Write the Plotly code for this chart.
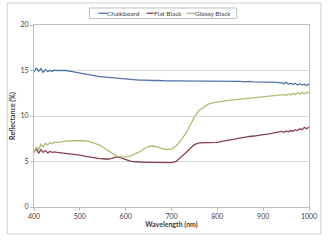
import plotly.graph_objects as go

wavelength = ([400, 405, 410, 415, 420, 425, 430, 435, 440, 445, 450]
              + list(range(460, 940, 10))
              + [940, 945, 950, 955, 960, 965, 970, 975, 980, 985, 990, 995, 1000])

chalkboard = ([14.8, 15.3, 14.9, 15.2, 14.8, 15.1, 14.9, 15.0, 14.9, 15.05, 15.0]
              + [15.0, 15.0, 14.9, 14.8, 14.7, 14.6, 14.5, 14.4, 14.35, 14.3,
                 14.25, 14.2, 14.15, 14.1, 14.05, 14.0, 14.0, 13.95, 13.95, 13.9,
                 13.9, 13.9, 13.85, 13.85, 13.85, 13.85, 13.8, 13.8, 13.8, 13.8,
                 13.8, 13.8, 13.8, 13.8, 13.8, 13.8, 13.8, 13.8, 13.8, 13.8,
                 13.75, 13.8, 13.75, 13.75, 13.75, 13.7, 13.7, 13.7]
              + [13.65, 13.55, 13.7, 13.5, 13.6, 13.45, 13.6, 13.4, 13.55, 13.4, 13.5, 13.35, 13.5])

flat_black = ([6.0, 6.4, 5.9, 6.3, 6.0, 6.2, 5.95, 6.1, 6.0, 6.05, 6.0]
              + [5.95, 5.9, 5.85, 5.75, 5.7, 5.6, 5.5, 5.45, 5.35, 5.3,
                 5.25, 5.35, 5.5, 5.4, 5.2, 5.05, 4.97, 4.92, 4.9, 4.9,
                 4.9, 4.9, 4.88, 4.87, 4.87, 5.0, 5.4, 5.9, 6.4, 6.85,
                 7.05, 7.05, 7.05, 7.05, 7.1, 7.2, 7.3, 7.4, 7.5, 7.6,
                 7.65, 7.75, 7.8, 7.9, 7.95, 8.0, 8.1, 8.2]
              + [8.3, 8.2, 8.35, 8.25, 8.4, 8.3, 8.5, 8.4, 8.6, 8.5, 8.75, 8.6, 8.8])

glossy_black = ([5.9, 6.6, 6.3, 6.9, 6.6, 7.0, 6.8, 7.1, 6.95, 7.15, 7.1]
                + [7.2, 7.25, 7.3, 7.3, 7.3, 7.28, 7.2, 7.05, 6.85, 6.6,
                   6.25, 5.9, 5.6, 5.5, 5.5, 5.6, 5.8, 6.05, 6.4, 6.65,
                   6.7, 6.6, 6.4, 6.3, 6.35, 6.7, 7.3, 8.0, 8.9, 9.9,
                   10.6, 11.0, 11.3, 11.45, 11.55, 11.6, 11.7, 11.75, 11.8, 11.85,
                   11.9, 11.95, 12.0, 12.05, 12.1, 12.15, 12.2, 12.25]
                + [12.3, 12.35, 12.25, 12.45, 12.3, 12.5, 12.35, 12.55, 12.4, 12.6, 12.45, 12.6, 12.5])

series_names = ["Chalkboard", "Flat Black", "Glossy Black"]
series_values = [chalkboard, flat_black, glossy_black]
colors = ["#4F75AA", "#8C3F4C", "#AFBE72"]
x_ticks = [400, 500, 600, 700, 800, 900, 1000]
y_ticks = [0, 5, 10, 15, 20]

assert all(len(s) == len(wavelength) for s in series_values)

FONT = "Lato"
W, H = 329, 240
L, R, T, B = 32, 19, 25, 33
PW, PH = W - L - R, H - T - B


def px(x):
    return (x - L) / PW


def py(y):
    return (H - B - y) / PH


fig = go.Figure()
for name, vals, col in zip(series_names, series_values, colors):
    fig.add_trace(go.Scatter(x=wavelength, y=vals, mode="lines", name=name,
                             line=dict(color=col, width=1.3)))

shapes = [
    dict(type="rect", xref="paper", yref="paper", x0=px(5), x1=px(322), y0=py(234), y1=py(3),
         line=dict(color="#D0D0D0", width=1), layer="below"),
    dict(type="rect", xref="paper", yref="paper", x0=px(88), x1=px(237), y0=py(18.5), y1=py(8),
         line=dict(color="#BFBFBF", width=1)),
]
annotations = []
legend_pos = [(97, 106), (146, 153), (186, 195)]
for (a, b), name, col in zip(legend_pos, series_names, colors):
    shapes.append(dict(type="line", xref="paper", yref="paper", x0=px(a), x1=px(b),
                       y0=py(13.3), y1=py(13.3), line=dict(color=col, width=1.3)))
    annotations.append(dict(xref="paper", yref="paper", x=px(b - 1), y=py(13.3), text=name,
                            showarrow=False, xanchor="left", yanchor="middle", borderpad=0,
                            font=dict(family=FONT, size=6.5, color="#404040")))

fig.update_layout(
    width=W, height=H,
    margin=dict(l=L, r=R, t=T, b=B),
    paper_bgcolor="white", plot_bgcolor="white",
    showlegend=False,
    shapes=shapes, annotations=annotations,
    font=dict(family=FONT, size=7, color="#404040"),
)
fig.update_xaxes(range=[400, 1000], tickvals=x_ticks, showgrid=False, zeroline=False,
                 showline=True, linecolor="#BFBFBF", linewidth=1, mirror=True,
                 ticks="outside", ticklen=3, tickcolor="#BFBFBF",
                 tickfont=dict(family=FONT, size=7, color="#404040"),
                 title=dict(text="<b>Wavelength (nm)</b>", standoff=2,
                            font=dict(family=FONT, size=7, color="#404040")))
fig.update_yaxes(range=[0, 20], tickvals=y_ticks, showgrid=True, gridcolor="#D9D9D9",
                 gridwidth=1, zeroline=False,
                 showline=True, linecolor="#BFBFBF", linewidth=1, mirror=True,
                 ticks="outside", ticklen=3, tickcolor="#BFBFBF",
                 tickfont=dict(family=FONT, size=7, color="#404040"),
                 title=dict(text="<b>Reflectance (%)</b>", standoff=4,
                            font=dict(family=FONT, size=7, color="#404040")))

fig.write_html("out.html")
